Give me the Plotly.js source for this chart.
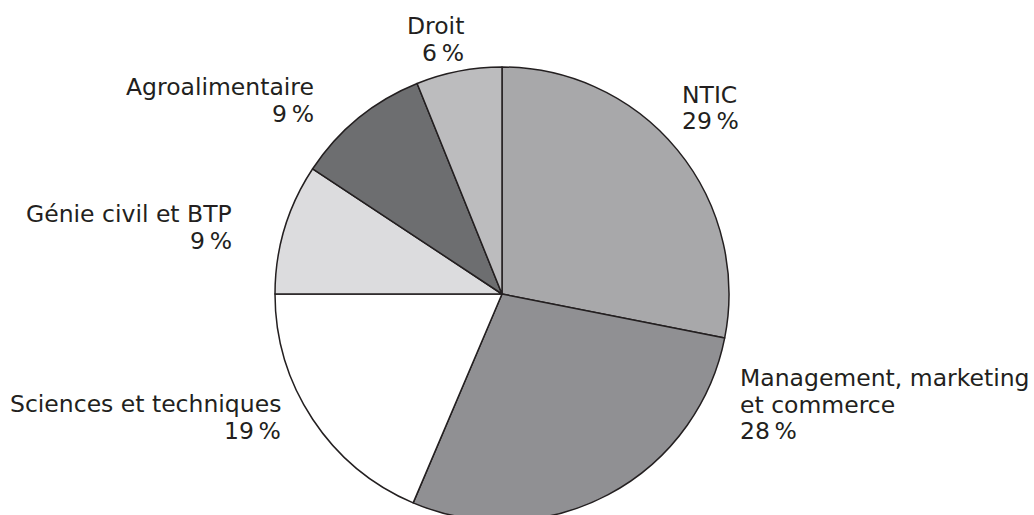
<!DOCTYPE html>
<html>
<head>
<meta charset="utf-8">
<script src="https://cdn.plot.ly/plotly-3.0.1.min.js"></script>
<style>
  html, body { margin: 0; padding: 0; background: #fff; overflow: hidden; }
  #chart { width: 1034px; height: 540px; }
</style>
</head>
<body>
<div id="chart"></div>
<script>
// slice names (\n = line break in the label), shares and the printed percentages
const sectors = ["NTIC", "Management, marketing\net commerce", "Sciences et techniques",
                 "Génie civil et BTP", "Agroalimentaire", "Droit"];
const shares = [28.1, 28.3, 18.6, 9.3, 9.6, 6.1];
const printedPct = [29, 28, 19, 9, 9, 6];
const sliceColors = ["#a8a8aa", "#909093", "#ffffff", "#dcdcde", "#6d6e70", "#bcbcbe"];

// where each label sits (pixels: x of the aligned edge, baseline of first line)
const labelAnchor = [[681, 103], [739, 386], [282, 412], [233, 222], [315, 95], [465, 34.5]];
const labelAlign = ["left", "left", "right", "right", "right", "right"];

const W = 1034, H = 540;
const ink = "#231f20";
const fontSize = 23.5;
const pitch = 26.5;

// pie trace, starting at 12 o'clock and going clockwise
var pie = {
    type: "pie",
    labels: sectors,
    values: shares,
    sort: false,
    direction: "clockwise",
    rotation: 0,
    textinfo: "none",
    hoverinfo: "none",
    marker: {
        colors: sliceColors,
        line: { color: ink, width: 1.5 }
    },
    domain: { x: [275 / W, 729 / W], y: [19 / H, 473 / H] }
};

// builds one annotation per text line so the line pitch matches
var annotations = [];
sectors.forEach((name, i) => {
    let lines = name.split("\n");
    lines.push(printedPct[i] + "\u202F%");
    let [ax, base] = labelAnchor[i];
    lines.forEach((line, j) => {
        let yMid = base + j * pitch - 8;
        annotations.push({
            text: line,
            x: ax / W,
            y: 1 - yMid / H,
            xref: "paper",
            yref: "paper",
            xanchor: labelAlign[i],
            yanchor: "middle",
            showarrow: false,
            borderpad: 0,
            font: { family: "DejaVu Sans", size: fontSize, color: ink }
        });
    });
});

var layout = {
    width: W,
    height: H,
    margin: { l: 0, r: 0, t: 0, b: 0 },
    paper_bgcolor: "#ffffff",
    showlegend: false,
    annotations: annotations
};

Plotly.newPlot("chart", [pie], layout, { staticPlot: true, displayModeBar: false });
</script>
</body>
</html>
